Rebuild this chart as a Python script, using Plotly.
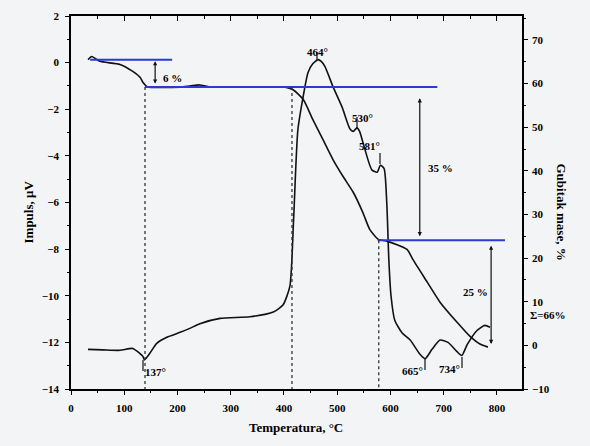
import plotly.graph_objects as go

# DTA curve (left axis, Impuls, uV)
dta_T = [32, 60, 92, 116, 129, 135, 138, 148, 161, 180, 205, 223, 242, 280, 336, 380, 398, 411,
         418, 426, 436, 445, 454, 464, 470, 477, 492, 509, 524, 530, 537, 542, 548, 565, 575,
         581, 588, 593, 597, 601, 608, 622, 637, 655, 665, 678, 693, 708, 725, 734, 744, 762,
         777, 787]
dta_v = [-12.3, -12.32, -12.34, -12.26, -12.47, -12.6, -12.75, -12.47, -12.04, -11.78, -11.57,
         -11.4, -11.2, -10.97, -10.9, -10.7, -10.4, -9.6, -6.75, -2.9, -1.46, -0.43, -0.05,
         0.13, 0.05, -0.17, -1.03, -1.9, -2.85, -2.95, -2.8, -2.95, -3.4, -4.6, -4.7, -4.4,
         -4.55, -6.0, -8.5, -10.0, -11.05, -11.6, -11.9, -12.5, -12.7, -12.3, -11.9, -12.0,
         -12.4, -12.56, -12.1, -11.5, -11.27, -11.35]

# TG curve (right axis, Gubitak mase, %)
tg_T = [32, 39, 54, 92, 116, 130, 135, 143, 205, 225, 242, 261, 402, 417, 436, 454, 473, 492,
        511, 530, 548, 561, 577, 593, 631, 642, 669, 693, 725, 749, 768, 783]
tg_m = [65.5, 66.2, 65.1, 64.4, 62.8, 61.4, 60.3, 59.3, 59.2, 59.5, 59.7, 59.2, 59.2, 58.6,
        56.4, 51.8, 47.2, 42.6, 38.7, 35.1, 30.5, 26.6, 24.3, 23.9, 22.0, 19.7, 14.5, 9.9,
        5.3, 2.1, 0.3, -0.4]

# reference levels (TG steps) and marks
levels_m = [65.5, 59.2, 24.1]
levels_T0 = [36, 139, 576]
levels_T1 = [190, 688, 815]
drop_T = [139, 415, 578]
drop_top = [59.2, 59.2, 24.1]
loss_labels = ["6 %", "35 %", "25 %"]
loss_T = [158, 655, 789]
loss_top = [65.5, 57.0, 23.2]
loss_bot = [60.0, 25.0, 0.3]
loss_text_T = [190, 694, 760]
loss_text_m = [61.2, 40.6, 12.2]

peak_labels = ["137°", "464°", "530°", "581°", "665°", "734°"]
peak_T = [138, 464, 535, 581, 665, 734]

xticks = list(range(0, 801, 100))
yticks_left = list(range(-14, 3, 2))
yticks_right = list(range(-10, 71, 10))

PL, PR, PT, PB = 71, 522, 16, 389
def px(x):
    return (x - PL) / (PR - PL)
def py(y):
    return (PB - y) / (PB - PT)

FONT = "Liberation Serif"
tickfont = dict(family=FONT, size=11, color="black", weight="bold")

fig = go.Figure()
fig.add_trace(go.Scatter(x=dta_T, y=dta_v, mode="lines", line=dict(color="#111", width=1.6),
                         line_shape="spline", line_smoothing=0.6, showlegend=False, yaxis="y"))
fig.add_trace(go.Scatter(x=tg_T, y=tg_m, mode="lines", line=dict(color="#111", width=1.6),
                         line_shape="spline", line_smoothing=0.6, showlegend=False, yaxis="y2"))
# invisible trace for top axis
fig.add_trace(go.Scatter(x=[0, 800], y=[0, 0], mode="lines", line=dict(width=0),
                         xaxis="x2", yaxis="y", showlegend=False, hoverinfo="skip", opacity=0))

for m, t0, t1 in zip(levels_m, levels_T0, levels_T1):
    fig.add_trace(go.Scatter(x=[t0, t1], y=[m, m], mode="lines", line=dict(color="#2a3ad6", width=2),
                             showlegend=False, yaxis="y2"))
for t, top in zip(drop_T, drop_top):
    fig.add_trace(go.Scatter(x=[t, t], y=[top, -10], mode="lines",
                             line=dict(color="#333", width=1.3, dash="dot"),
                             showlegend=False, yaxis="y2"))

annotations = []
for t, a, b in zip(loss_T, loss_top, loss_bot):
    annotations.append(dict(x=t, y=b, ax=t, ay=a, xref="x", yref="y2", axref="x", ayref="y2",
                            text="", showarrow=True, arrowhead=2, arrowsize=0.7, arrowwidth=1.2,
                            arrowside="end+start", arrowcolor="#111"))
for lab, t, m in zip(loss_labels, loss_text_T, loss_text_m):
    annotations.append(dict(x=t, y=m, xref="x", yref="y2", text=lab, showarrow=False,
                            font=dict(family=FONT, size=11, color="black", weight="bold")))

# peak labels positions (pixels)
peak_px = [(143, 380), (317, 44), (362, 110), (382, 146), (425, 379), (462, 377)]
tick_seg = [((143, 360), (143, 371)), ((317, 52), (317, 60)), ((357, 117), (357, 129)),
            ((380, 153), (380, 164)), ((425, 359), (425, 370)), ((462, 357), (462, 368))]
for lab, (x, y) in zip(peak_labels, peak_px):
    annotations.append(dict(x=px(x), y=py(y), xref="paper", yref="paper", text=lab,
                            showarrow=False,
                            font=dict(family=FONT, size=11, color="black", weight="bold")))
shapes = []
for (x0, y0), (x1, y1) in tick_seg:
    shapes.append(dict(type="line", xref="paper", yref="paper", x0=px(x0), y0=py(y0),
                       x1=px(x1), y1=py(y1), line=dict(color="#111", width=1.2)))

annotations.append(dict(x=px(296), y=py(437), xref="paper", yref="paper",
                        text="Temperatura, °C", showarrow=False,
                        font=dict(family=FONT, size=13, color="black", weight="bold")))
annotations.append(dict(x=px(18), y=py(212), xref="paper", yref="paper",
                        text="Impuls, μV", showarrow=False, textangle=-90,
                        font=dict(family=FONT, size=13, color="black", weight="bold")))
annotations.append(dict(x=px(571), y=py(212), xref="paper", yref="paper",
                        text="Gubitak mase, %", showarrow=False, textangle=90,
                        font=dict(family=FONT, size=13, color="black", weight="bold")))
annotations.append(dict(x=px(567), y=py(323), xref="paper", yref="paper",
                        text="Σ=66%", showarrow=False,
                        font=dict(family=FONT, size=11, color="black", weight="bold")))

axline = dict(showline=True, linecolor="black", linewidth=1.6, showgrid=False, zeroline=False)
fig.update_layout(
    width=590, height=446,
    margin=dict(l=PL, r=590 - PR, t=PT, b=446 - PB, autoexpand=False),
    paper_bgcolor="#f3f4f6", plot_bgcolor="#f3f4f6",
    xaxis=dict(range=[0, 847], tickvals=xticks, ticks="outside", ticklen=4, tickwidth=1.2,
               tickcolor="black", tickfont=tickfont, ticklabelstandoff=4, mirror=True,
               minor=dict(dtick=50, ticks="outside", ticklen=2, tickcolor="black"), **axline),
    xaxis2=dict(range=[0, 847], overlaying="x", side="top", anchor="y", tickvals=xticks,
                ticks="inside", ticklen=5, tickwidth=1.2, tickcolor="black",
                showticklabels=False, showgrid=False, zeroline=False, showline=False,
                minor=dict(dtick=50, ticks="inside", ticklen=3, tickcolor="black")),
    yaxis=dict(range=[-14, 2], tickvals=yticks_left, ticks="outside", ticklen=4, tickwidth=1.2,
               tickcolor="black", tickfont=tickfont, ticklabelstandoff=4,
               minor=dict(dtick=1, ticks="outside", ticklen=2, tickcolor="black"), **axline),
    yaxis2=dict(range=[-10, 75.5], tickvals=yticks_right, overlaying="y", side="right",
                anchor="x", ticks="outside", ticklen=4, tickwidth=1.2, tickcolor="black",
                tickfont=tickfont, ticklabelstandoff=2,
                minor=dict(dtick=5, ticks="outside", ticklen=2, tickcolor="black"), **axline),
    annotations=annotations, shapes=shapes,
)
fig.write_html("out.html", config={"displayModeBar": False},
               post_script="document.body.style.margin='0px';")
